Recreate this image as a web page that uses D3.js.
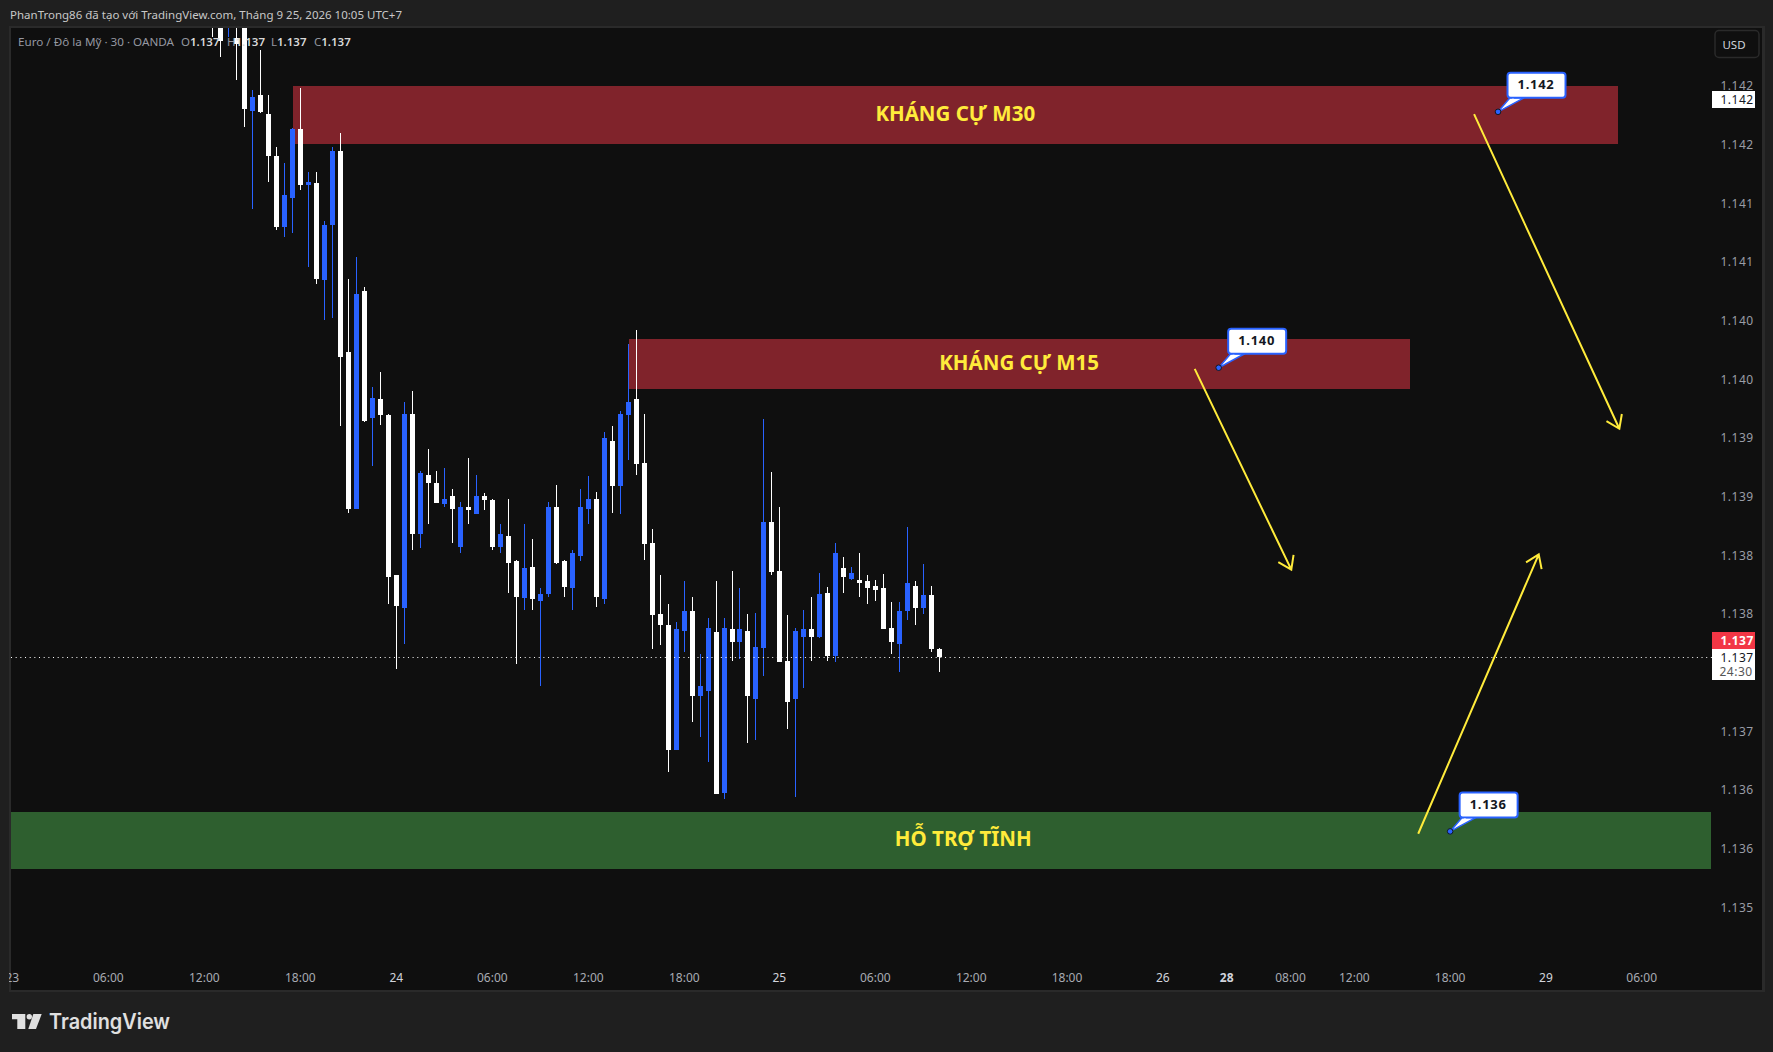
<!DOCTYPE html>
<html>
<head>
<meta charset="utf-8">
<style>
  html, body { margin: 0; padding: 0; background: #1f1f1f; }
  svg { display: block; }
  text { font-family: "Noto Sans", sans-serif; }
  .domain { display: none; }
</style>
<script src="https://d3js.org/d3.v7.min.js"></script>
</head>
<body>
<svg width="1773" height="1052"></svg>
<script>
// bars are numbered from firstBar, one per 30 minutes
var firstBar = -1;
var opens = [1.14265,1.14267,1.14261,1.14241,1.14265,1.14179,1.14192,1.14176,1.14140,1.14080,1.14105,1.14163,1.14116,1.14117,1.14035,1.14082,1.14145,1.13973,1.13840,1.14025,1.13917,1.13933,1.13920,1.13783,1.13755,1.13921,1.13818,1.13869,1.13862,1.13844,1.13851,1.13807,1.13841,1.13835,1.13851,1.13847,1.13807,1.13817,1.13795,1.13764,1.13790,1.13761,1.13767,1.13841,1.13795,1.13772,1.13800,1.13840,1.13848,1.13763,1.13898,1.13859,1.13920,1.13933,1.13879,1.13811,1.13750,1.13741,1.13634,1.13736,1.13753,1.13680,1.13685,1.13735,1.13598,1.13737,1.13726,1.13736,1.13678,1.13721,1.13829,1.13787,1.13710,1.13678,1.13731,1.13737,1.13731,1.13768,1.13714,1.13789,1.13780,1.13779,1.13778,1.13774,1.13772,1.13738,1.13725,1.13753,1.13774,1.13755,1.13766,1.13720];
var highs = [1.14269,1.14273,1.14273,1.14273,1.14269,1.14197,1.14231,1.14192,1.14148,1.14134,1.14164,1.14198,1.14127,1.14127,1.14085,1.14148,1.14160,1.14036,1.14054,1.14029,1.13944,1.13956,1.13921,1.13783,1.13931,1.13940,1.13872,1.13891,1.13872,1.13875,1.13857,1.13846,1.13883,1.13869,1.13853,1.13848,1.13827,1.13848,1.13796,1.13827,1.13814,1.13772,1.13846,1.13860,1.13796,1.13805,1.13857,1.13868,1.13854,1.13905,1.13910,1.13923,1.13980,1.13992,1.13921,1.13823,1.13783,1.13759,1.13743,1.13778,1.13765,1.13716,1.13747,1.13778,1.13747,1.13787,1.13772,1.13750,1.13751,1.13916,1.13871,1.13841,1.13749,1.13738,1.13754,1.13765,1.13785,1.13773,1.13811,1.13799,1.13790,1.13802,1.13783,1.13779,1.13784,1.13760,1.13760,1.13824,1.13778,1.13793,1.13774,1.13721];
var lows = [1.14242,1.14225,1.14242,1.14205,1.14165,1.14095,1.14177,1.14118,1.14077,1.14071,1.14075,1.14111,1.14046,1.14031,1.14001,1.14002,1.13910,1.13836,1.13840,1.13914,1.13876,1.13911,1.13759,1.13703,1.13725,1.13805,1.13806,1.13827,1.13845,1.13841,1.13811,1.13802,1.13827,1.13835,1.13839,1.13805,1.13802,1.13768,1.13708,1.13754,1.13754,1.13689,1.13765,1.13793,1.13765,1.13754,1.13795,1.13827,1.13756,1.13759,1.13836,1.13835,1.13881,1.13869,1.13796,1.13720,1.13724,1.13616,1.13634,1.13718,1.13658,1.13645,1.13624,1.13597,1.13593,1.13710,1.13712,1.13640,1.13643,1.13697,1.13783,1.13709,1.13652,1.13594,1.13687,1.13710,1.13730,1.13710,1.13709,1.13768,1.13779,1.13765,1.13759,1.13761,1.13737,1.13716,1.13701,1.13745,1.13741,1.13750,1.13718,1.13701];
var closes = [1.14256,1.14238,1.14267,1.14236,1.14180,1.14191,1.14178,1.14140,1.14080,1.14107,1.14163,1.14116,1.14118,1.14036,1.14082,1.14145,1.13969,1.13840,1.14023,1.13915,1.13934,1.13920,1.13782,1.13757,1.13921,1.13818,1.13870,1.13862,1.13845,1.13848,1.13840,1.13841,1.13839,1.13851,1.13847,1.13807,1.13818,1.13794,1.13765,1.13789,1.13763,1.13767,1.13841,1.13794,1.13773,1.13802,1.13841,1.13848,1.13765,1.13900,1.13859,1.13921,1.13931,1.13878,1.13810,1.13749,1.13741,1.13634,1.13737,1.13753,1.13680,1.13689,1.13738,1.13597,1.13738,1.13726,1.13737,1.13680,1.13722,1.13829,1.13786,1.13709,1.13675,1.13736,1.13737,1.13731,1.13767,1.13714,1.13802,1.13782,1.13785,1.13777,1.13772,1.13771,1.13737,1.13726,1.13753,1.13777,1.13755,1.13766,1.13720,1.137135];

var priceTicks = [1.135,1.1355,1.136,1.1365,1.137,1.1375,1.138,1.1385,1.139,1.1395,1.14,1.1405,1.141,1.1415,1.142];
var priceLabels = ["1.135","1.136","1.136","1.137","1.137","1.138","1.138","1.139","1.139","1.140","1.140","1.141","1.141","1.142","1.142"];
var timeTicks = [-26,-14,-2,10,22,34,46,58,70,82,94,106,118,126,134,142,154,166,178];
var timeLabels = ["23","06:00","12:00","18:00","24","06:00","12:00","18:00","25","06:00","12:00","18:00","26","28","08:00","12:00","18:00","29","06:00"];
var dayLabels = ["24","25","26","28","29"];

var zoneNames = ["KHÁNG CỰ M30","KHÁNG CỰ M15","HỖ TRỢ TĨNH"];
var zoneStart = [9.1,51.1,-30];
var zoneEnd = [175,149,186.7];
var zoneHigh = [1.14200,1.139845,1.135815];
var zoneLow = [1.14151,1.13942,1.13533];
var zoneLabelBar = [92,100,93];
var zoneColors = ["#80232b","#80232b","#2e5f2f"];

var noteBars = [160,125,154];
var notePrices = [1.14178,1.13960,1.13565];
var noteLabels = ["1.142","1.140","1.136"];

var arrowFromBar = [157,122,150];
var arrowFromPrice = [1.14176,1.13959,1.13563];
var arrowToBar = [175.2,134.1,165.1];
var arrowToPrice = [1.13908,1.13788,1.13801];

var lastPrice = closes[closes.length - 1];
var notePriceTag = 1.141885;

var svg = d3.select("svg");
var plot = {left: 11, right: 1762, top: 28, bottom: 990};

svg.append("rect").attr("width", 1773).attr("height", 1052).attr("fill", "#1f1f1f");
svg.append("rect").attr("x", 9).attr("y", 26).attr("width", 1756).attr("height", 966).attr("fill", "#2a2a2a");
svg.append("rect").attr("x", plot.left).attr("y", plot.top).attr("width", plot.right - plot.left)
   .attr("height", plot.bottom - plot.top).attr("fill", "#0f0f0f");

svg.append("clipPath").attr("id", "plotclip").append("rect")
   .attr("x", plot.left).attr("y", plot.top).attr("width", plot.right - plot.left).attr("height", plot.bottom - plot.top);
svg.append("clipPath").attr("id", "timeclip").append("rect")
   .attr("x", 9).attr("y", plot.top).attr("width", plot.right - 9).attr("height", plot.bottom - plot.top);

// bar number -> pixel, the chart drops a pixel here and there
var x = d3.scaleLinear().domain([0,64,65,90,178]).range([220.3,732.3,739.3,939.3,1641.7]);
var y = d3.scaleLinear().domain([1.135,1.142]).range([907.7,86]);

var chart = svg.append("g").attr("clip-path", "url(#plotclip)");

// zones
zoneNames.forEach(function(name, i) {
    chart.append("rect")
        .attr("x", Math.round(x(zoneStart[i])))
        .attr("y", Math.round(y(zoneHigh[i])))
        .attr("width", Math.round(x(zoneEnd[i])) - Math.round(x(zoneStart[i])))
        .attr("height", Math.round(y(zoneLow[i])) - Math.round(y(zoneHigh[i])))
        .attr("fill", zoneColors[i]);
});

// candles
var bars = d3.range(opens.length).map(function(i) {
    return {bar: firstBar + i, o: opens[i], h: highs[i], l: lows[i], c: closes[i]};
});
var barColor = function(d) { return d.c < d.o ? "#ffffff" : "#2962ff"; };

chart.selectAll(".wick").data(bars).enter().append("rect")
    .attr("class", "wick")
    .attr("x", function(d) { return Math.floor(x(d.bar)); })
    .attr("y", function(d) { return Math.round(y(d.h)); })
    .attr("width", 1)
    .attr("height", function(d) { return Math.round(y(d.l)) - Math.round(y(d.h)); })
    .attr("fill", barColor);

chart.selectAll(".body").data(bars).enter().append("rect")
    .attr("class", "body")
    .attr("x", function(d) { return Math.floor(x(d.bar)) - 2; })
    .attr("y", function(d) { return Math.round(y(Math.max(d.o, d.c))); })
    .attr("width", 5)
    .attr("height", function(d) { return Math.max(1, Math.round(y(Math.min(d.o, d.c))) - Math.round(y(Math.max(d.o, d.c)))); })
    .attr("fill", barColor);

// last price line
svg.append("line")
    .attr("x1", plot.left).attr("x2", 1712)
    .attr("y1", Math.round(y(lastPrice)) + 0.5).attr("y2", Math.round(y(lastPrice)) + 0.5)
    .attr("stroke", "#ffffff").attr("stroke-width", 1).attr("stroke-dasharray", "1 3.67");

// zone labels
zoneNames.forEach(function(name, i) {
    chart.append("text")
        .attr("x", x(zoneLabelBar[i]))
        .attr("y", (y(zoneHigh[i]) + y(zoneLow[i])) / 2 - 1.5)
        .attr("dy", "0.36em")
        .attr("text-anchor", "middle")
        .attr("fill", "#ffeb3b")
        .attr("font-size", 20.5)
        .attr("font-weight", 700)
        .text(name);
});

// arrows
arrowFromBar.forEach(function(b, i) {
    var x1 = x(b), y1 = y(arrowFromPrice[i]), x2 = x(arrowToBar[i]), y2 = y(arrowToPrice[i]);
    var a = Math.atan2(y2 - y1, x2 - x1);
    var head = d3.path();
    head.moveTo(x1, y1);
    head.lineTo(x2, y2);
    head.moveTo(x2 - 15 * Math.cos(a - 0.6), y2 - 15 * Math.sin(a - 0.6));
    head.lineTo(x2, y2);
    head.lineTo(x2 - 15 * Math.cos(a + 0.6), y2 - 15 * Math.sin(a + 0.6));
    svg.append("path").attr("d", head.toString()).attr("fill", "none")
       .attr("stroke", "#ffeb3b").attr("stroke-width", 2);
});

// price notes
noteBars.forEach(function(b, i) {
    var px = x(b), py = y(notePrices[i]);
    var g = svg.append("g").attr("transform", "translate(" + px + "," + py + ")");
    g.append("path").attr("d", "M0,0L12,-14L26,-14Z").attr("fill", "#ffffff").attr("stroke", "#2962ff").attr("stroke-width", 1.5);
    g.append("rect").attr("x", 9.5).attr("y", -39).attr("width", 58).attr("height", 25).attr("rx", 3)
     .attr("fill", "#ffffff").attr("stroke", "#2962ff").attr("stroke-width", 2);
    g.append("path").attr("d", "M3,-2L14,-13L25,-13L16,-13Z").attr("fill", "#ffffff");
    g.append("text").attr("x", 38).attr("y", -27.5).attr("dy", "0.36em").attr("text-anchor", "middle")
     .attr("font-size", 13).attr("font-weight", 700).attr("letter-spacing", 0.7).attr("fill", "#131722").text(noteLabels[i]);
    g.append("circle").attr("r", 2.8).attr("fill", "#2962ff").attr("stroke", "#131722").attr("stroke-width", 1);
});

// axes
var yAxis = d3.axisRight(y).tickValues(priceTicks).tickSize(0).tickPadding(0)
    .tickFormat(function(d, i) { return priceLabels[i]; });
var yG = svg.append("g").attr("transform", "translate(1720.5,-0.2)").call(yAxis);
yG.selectAll("text").attr("fill", "#9a9da6").attr("font-size", 12).attr("letter-spacing", 0.5)
  .style("font-family", '"Noto Sans", sans-serif');

var xAxis = d3.axisBottom(x).tickValues(timeTicks).tickSize(0).tickPadding(0)
    .tickFormat(function(d, i) { return timeLabels[i]; });
var xG = svg.append("g").attr("clip-path", "url(#timeclip)").append("g").attr("transform", "translate(-0.5,973)").call(xAxis);
xG.selectAll("text").attr("fill", function(d, i) { return dayLabels.indexOf(timeLabels[i]) >= 0 ? "#d1d4dc" : "#a8abb3"; })
  .attr("font-size", 12)
  .attr("font-weight", function(d, i) { return timeLabels[i] == "28" ? 700 : 400; })
  .style("font-family", '"Noto Sans", sans-serif');

// price tags on the axis
function tag(x0, y0, w, h, fill) {
    svg.append("rect").attr("x", x0).attr("y", y0).attr("width", w).attr("height", h).attr("fill", fill);
}
function tagText(py, str, color, weight, sx) {
    svg.append("text").attr("x", sx || 1720.5).attr("y", py).attr("dy", "0.36em")
       .attr("font-size", 12).attr("letter-spacing", 0.5).attr("font-weight", weight).attr("fill", color).text(str);
}
tag(1712, Math.round(y(notePriceTag)) - 8, 43, 17, "#ffffff");
tagText(y(notePriceTag), noteLabels[0], "#131722", 400);
tag(1712, 632, 43, 17, "#f23645");
tagText(640.5, "1.137", "#ffffff", 700);
tag(1712, 649, 43, 31, "#ffffff");
tagText(657.5, "1.137", "#131722", 400);
tagText(671.5, "24:30", "#555555", 400, 1719.5);

// USD button
svg.append("rect").attr("x", 1715).attr("y", 30.5).attr("width", 44).attr("height", 27).attr("rx", 4)
   .attr("fill", "none").attr("stroke", "#2a2a2a").attr("stroke-width", 1.5);
svg.append("text").attr("x", 1734).attr("y", 44.5).attr("dy", "0.36em").attr("text-anchor", "middle")
   .attr("font-size", 11.5).attr("fill", "#d1d4dc").text("USD");

// header
svg.append("text").attr("x", 10).attr("y", 19).attr("font-size", 11.5).attr("fill", "#c8c8c8")
   .attr("textLength", 392).attr("lengthAdjust", "spacingAndGlyphs")
   .text("PhanTrong86 đã tạo với TradingView.com, Tháng 9 25, 2026 10:05 UTC+7");

// legend
svg.append("text").attr("x", 18).attr("y", 46).attr("font-size", 11.5).attr("fill", "#9598a1")
   .attr("textLength", 156).attr("lengthAdjust", "spacingAndGlyphs")
   .text("Euro / Đô la Mỹ · 30 · OANDA");
[["O",181],["H",227],["L",271],["C",314]].forEach(function(p) {
    var t = svg.append("text").attr("x", p[1]).attr("y", 46).attr("font-size", 11.5).attr("fill", "#9598a1").text(p[0]);
    t.append("tspan").attr("font-weight", 600).attr("fill", "#d8d8d8").text("1.137");
});

// logo
var logo = svg.append("g").attr("fill", "#e0e0e0");
logo.append("path").attr("d", "M12,1014H25.3V1029H17.3V1019.3H12Z");
logo.append("circle").attr("cx", 29.3).attr("cy", 1016.7).attr("r", 2.7);
logo.append("path").attr("d", "M33.3,1014H41.7L36,1029H28.3Z");
logo.append("text").attr("x", 49).attr("y", 1029).attr("font-size", 21).attr("font-weight", 600)
    .style("font-family", "Inter, sans-serif").attr("textLength", 121).attr("lengthAdjust", "spacingAndGlyphs")
    .text("TradingView");
</script>
</body>
</html>
